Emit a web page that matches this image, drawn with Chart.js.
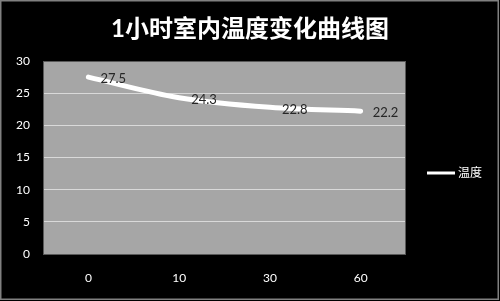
<!DOCTYPE html>
<html>
<head>
<meta charset="utf-8">
<script src="https://cdn.jsdelivr.net/npm/chart.js@4/dist/chart.umd.min.js"></script>
<style>
  html, body { margin: 0; padding: 0; background: #000; }
  canvas { display: block; }
</style>
</head>
<body>
<canvas id="lineChart" width="500" height="301"></canvas>
<script>
var chartTitle = "1小时室内温度变化曲线图";
var seriesName = "温度";
var minutes = ["0", "10", "30", "60"];
var temps = [27.5, 24.3, 22.8, 22.2];
var yTicks = [0, 5, 10, 15, 20, 25, 30];

var fontFamily = "Lato, 'Noto Sans CJK SC', sans-serif";

// gray plot box, title, legend, value labels, outer frame
var decor = {
    id: 'decor',
    beforeDraw: function (chart) {
        var c = chart.ctx, a = chart.chartArea;
        c.save();
        c.fillStyle = "#000";
        c.fillRect(0, 0, chart.width, chart.height);
        c.fillStyle = "#a6a6a6";
        c.fillRect(a.left, a.top, a.right - a.left, a.bottom - a.top);
        c.restore();
    },
    afterDatasetsDraw: function (chart) {
        var c = chart.ctx, a = chart.chartArea;
        c.save();
        c.strokeStyle = "#595959";
        c.lineWidth = 1;
        c.strokeRect(a.left + 0.5, a.top + 0.5, a.right - a.left - 1, a.bottom - a.top);

        // value labels
        var meta = chart.getDatasetMeta(0);
        c.font = "13px " + fontFamily;
        c.fillStyle = "#262626";
        c.textAlign = "left";
        c.textBaseline = "middle";
        meta.data.forEach(function (pt, i) {
            c.fillText(temps[i].toFixed(1), pt.x + 12, pt.y + 2);
        });

        // title
        c.font = "bold 24px " + fontFamily;
        c.fillStyle = "#fff";
        c.textAlign = "center";
        c.fillText(chartTitle, 250, 29);

        // legend
        c.strokeStyle = "#fff";
        c.lineWidth = 3;
        c.beginPath();
        c.moveTo(427, 173);
        c.lineTo(455, 173);
        c.stroke();
        c.font = "12px " + fontFamily;
        c.textAlign = "left";
        c.fillText(seriesName, 458, 173);

        // frame
        c.strokeStyle = "#808080";
        c.lineWidth = 1.5;
        c.strokeRect(0.75, 0.75, chart.width - 2.5, chart.height - 2.5);
        c.restore();
    }
};

var ctx = document.getElementById("lineChart");
var lineChart = new Chart(ctx, {
    type: 'line',
    data: {
        labels: minutes,
        datasets: [{
            label: seriesName,
            data: temps,
            borderColor: "#fff",
            borderWidth: 5,
            borderCapStyle: 'round',
            tension: 0.35,
            pointRadius: 0,
            fill: false
        }]
    },
    options: {
        responsive: false,
        animation: false,
        layout: { padding: { left: 0, right: 94, top: 61, bottom: 0 } },
        plugins: {
            legend: { display: false },
            title: { display: false },
            tooltip: { enabled: false }
        },
        scales: {
            x: {
                offset: true,
                grid: { display: false, drawTicks: false },
                border: { display: false },
                ticks: { color: "#fff", padding: 17, font: { size: 12, family: fontFamily } },
                afterFit: function (s) { s.height = 47; }
            },
            y: {
                min: 0,
                max: 30,
                afterBuildTicks: function (s) {
                    s.ticks = yTicks.map(function (v) { return { value: v }; });
                },
                grid: { color: "#d9d9d9", lineWidth: 1, drawTicks: false },
                border: { display: false },
                ticks: { color: "#fff", padding: 13, font: { size: 12, family: fontFamily } },
                afterFit: function (s) { s.width = 43; }
            }
        }
    },
    plugins: [decor]
});
</script>
</body>
</html>
